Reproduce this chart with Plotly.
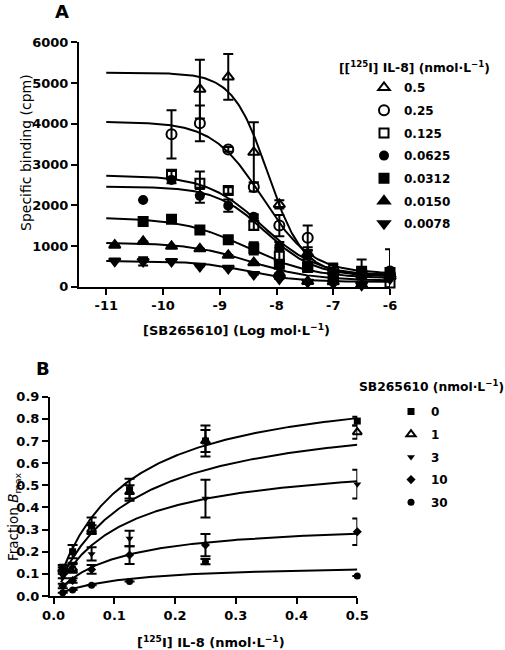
import numpy as np
import plotly.graph_objects as go

# ---------------- Panel A data ----------------
a_x = [-10.85, -10.35, -9.85, -9.35, -8.85, -8.4, -7.95, -7.45, -7.0, -6.5, -6.0]
a_labels = ["0.5", "0.25", "0.125", "0.0625", "0.0312", "0.0150", "0.0078"]
a_y_05 = [None, None, None, 4850, 5150, 3300, 2020, 820, 380, 300, 260]
a_e_05 = [None, None, None, 720, 560, 740, 100, 150, 150, 120, 100]
a_y_025 = [None, None, 3740, 4010, 3370, 2450, 1500, 1200, 420, 330, 300]
a_e_025 = [None, None, 590, 440, 60, 110, 260, 300, 150, 150, 100]
a_y_0125 = [None, None, 2760, 2540, 2360, 1500, 750, 480, 300, 300, 90]
a_e_0125 = [None, None, 80, 290, 80, 100, 200, 120, 100, 100, 100]
a_y_00625 = [None, 2130, 2620, 2230, 1990, 1720, 1000, 780, 350, 350, 400]
a_e_00625 = [None, None, 80, 170, 150, 50, 100, 100, 120, 320, 520]
a_y_00312 = [None, 1600, 1655, 1390, 1150, 940, 550, 490, 300, 380, 350]
a_e_00312 = [None, None, None, 40, 60, 150, 80, 80, 60, 80, 60]
a_y_00150 = [1020, 1110, 990, 930, 770, 590, 330, 130, 120, 50, 250]
a_e_00150 = [None, None, None, None, None, None, None, None, None, None, None]
a_y_00078 = [630, 620, 620, 500, 450, 300, 190, 110, 80, 40, 200]
a_e_00078 = [None, 100, None, None, None, None, None, None, None, None, None]

# one-site competition fit parameters
a_top = [5250, 4050, 2730, 2460, 1700, 1080, 630]
a_bottom = [300, 320, 260, 250, 200, 150, 120]
a_logic50 = [-8.15, -8.25, -8.25, -8.2, -8.5, -8.45, -8.5]
a_hill = [1.4, 1.0, 0.9, 1.0, 0.75, 0.8, 1.0]

a_ticks = [-11, -10, -9, -8, -7, -6]
a_tick_text = ["-11", "-10", "-9", "-8", "-7", "-6"]
a_yticks = [0, 1000, 2000, 3000, 4000, 5000, 6000]

# ---------------- Panel B data ----------------
b_x = [0.015, 0.0312, 0.0625, 0.125, 0.25, 0.5]
b_labels = ["0", "1", "3", "10", "30"]
b_y_0 = [0.13, 0.20, 0.32, 0.48, 0.70, 0.79]
b_e_0 = [0.01, 0.03, 0.035, 0.05, 0.07, 0.02]
b_y_1 = [0.12, 0.125, 0.30, 0.47, 0.70, 0.74]
b_e_1 = [0.01, 0.02, 0.02, 0.03, 0.05, 0.03]
b_y_3 = [0.09, 0.13, 0.19, 0.26, 0.44, 0.505]
b_e_3 = [0.01, 0.02, 0.03, 0.035, 0.085, 0.065]
b_y_10 = [0.045, 0.07, 0.12, 0.185, 0.23, 0.29]
b_e_10 = [0.01, 0.01, 0.02, 0.04, 0.05, 0.06]
b_y_30 = [0.015, 0.027, 0.048, 0.065, 0.155, 0.09]
b_e_30 = [None, None, None, None, 0.012, None]

# one-site saturation fit parameters
b_bmax = [0.98, 0.854, 0.632, 0.338, 0.146]
b_kd = [0.11, 0.125, 0.11, 0.10, 0.11]

b_ticks = [0.0, 0.1, 0.2, 0.3, 0.4, 0.5]
b_tick_text = ["0.0", "0.1", "0.2", "0.3", "0.4", "0.5"]
b_yticks = [0.0, 0.1, 0.2, 0.3, 0.4, 0.5, 0.6, 0.7, 0.8, 0.9]
b_ytick_text = ["0.0", "0.1", "0.2", "0.3", "0.4", "0.5", "0.6", "0.7", "0.8", "0.9"]

# ---------------- styles ----------------
FONT = "DejaVu Sans"
W, H = 505, 650
a_symbols = ["triangle-up-open", "circle-open", "square-open", "circle", "square",
             "triangle-up", "triangle-down"]
a_sizes = [10, 10, 9, 8, 9, 10, 10]
b_symbols = ["square", "triangle-up-open", "triangle-down", "diamond", "circle"]
b_sizes = [7, 8, 7, 7, 7]

fig = go.Figure()

# Panel A fit curves
xa_fit = np.linspace(-11, -6, 300)
for top, bot, c, h in zip(a_top, a_bottom, a_logic50, a_hill):
    yfit = bot + (top - bot) / (1 + 10 ** ((xa_fit - c) * h))
    fig.add_trace(go.Scatter(x=xa_fit, y=yfit, mode="lines", line=dict(color="black", width=2),
                             showlegend=False, hoverinfo="skip", xaxis="x", yaxis="y"))

a_series = [(a_y_05, a_e_05), (a_y_025, a_e_025), (a_y_0125, a_e_0125), (a_y_00625, a_e_00625),
            (a_y_00312, a_e_00312), (a_y_00150, a_e_00150), (a_y_00078, a_e_00078)]
for i, (ys, es) in enumerate(a_series):
    fig.add_trace(go.Scatter(
        x=a_x, y=ys, mode="markers", name=a_labels[i], legend="legend", legendgroup="a%d" % i,
        marker=dict(symbol=a_symbols[i], size=a_sizes[i], color="black",
                    line=dict(color="black", width=2)),
        error_y=dict(type="data", array=es, color="black", thickness=2, width=5),
        cliponaxis=False, xaxis="x", yaxis="y"))

# Panel B fit curves
xb_fit = np.linspace(0.012, 0.5, 300)
for bm, kd in zip(b_bmax, b_kd):
    yfit = bm * xb_fit / (kd + xb_fit)
    fig.add_trace(go.Scatter(x=xb_fit, y=yfit, mode="lines", line=dict(color="black", width=2),
                             showlegend=False, hoverinfo="skip", xaxis="x2", yaxis="y2"))

b_series = [(b_y_0, b_e_0), (b_y_1, b_e_1), (b_y_3, b_e_3), (b_y_10, b_e_10), (b_y_30, b_e_30)]
for i, (ys, es) in enumerate(b_series):
    fig.add_trace(go.Scatter(
        x=b_x, y=ys, mode="markers", name=b_labels[i], legend="legend2", legendgroup="b%d" % i,
        marker=dict(symbol=b_symbols[i], size=b_sizes[i], color="black",
                    line=dict(color="black", width=2 if "open" in b_symbols[i] else 0)),
        error_y=dict(type="data", array=es, color="black", thickness=2, width=5),
        cliponaxis=False, xaxis="x2", yaxis="y2"))

axis_common = dict(showgrid=False, zeroline=False, showline=True, linecolor="black", linewidth=2,
                   ticks="outside", ticklen=6, tickwidth=2, tickcolor="black", automargin=False,
                   tickfont=dict(family=FONT, size=13, color="black", weight="bold"))

def px_x(p):
    return p / W

def px_y(p):
    return 1 - p / H

ann_font = dict(family=FONT, color="black")
annotations = [
    dict(text="A", x=px_x(62), y=px_y(12), font=dict(size=18, weight="bold", **ann_font)),
    dict(text="B", x=px_x(43), y=px_y(368), font=dict(size=18, weight="bold", **ann_font)),
    dict(text="[SB265610] (Log mol·L<sup>−1</sup>)", x=px_x(236), y=px_y(330),
         font=dict(size=13, weight="bold", **ann_font)),
    dict(text="Specific binding (cpm)", x=px_x(26), y=px_y(153), textangle=-90,
         font=dict(size=14, **ann_font)),
    dict(text="[<sup>125</sup>I] IL-8 (nmol·L<sup>−1</sup>)", x=px_x(211), y=px_y(642),
         font=dict(size=13, weight="bold", **ann_font)),
    dict(text="Fraction <i>B</i><sub>max</sub>", x=px_x(14), y=px_y(517), textangle=-90,
         font=dict(size=13.5, **ann_font)),
    dict(text="[[<sup>125</sup>I] IL-8] (nmol·L<sup>−1</sup>)", x=px_x(337), y=px_y(67),
         xanchor="left", font=dict(size=12.3, weight="bold", **ann_font)),
    dict(text="SB265610 (nmol·L<sup>−1</sup>)", x=px_x(357), y=px_y(386),
         xanchor="left", font=dict(size=12.3, weight="bold", **ann_font)),
]
for a in annotations:
    a.setdefault("xanchor", "center")
    a.update(xref="paper", yref="paper", yanchor="middle", showarrow=False)

legend_common = dict(xanchor="left", yanchor="top", bgcolor="rgba(0,0,0,0)", borderwidth=0,
                     traceorder="grouped", tracegroupgap=3.7,
                     font=dict(family=FONT, size=12, color="black", weight="bold"))

fig.update_layout(
    width=W, height=H, margin=dict(l=0, r=0, t=0, b=0, autoexpand=False),
    paper_bgcolor="white", plot_bgcolor="white", showlegend=True,
    xaxis=dict(domain=[px_x(79), px_x(390)], range=[-11.48, -6], anchor="y",
               tickvals=a_ticks, ticktext=a_tick_text, **axis_common),
    yaxis=dict(domain=[px_y(286.7), px_y(42.3)], range=[0, 6000], anchor="x",
               tickvals=a_yticks, **axis_common),
    xaxis2=dict(domain=[px_x(50), px_x(357.3)], range=[-0.006, 0.5], anchor="y2",
                tickvals=b_ticks, ticktext=b_tick_text, **axis_common),
    yaxis2=dict(domain=[px_y(596), px_y(396.7)], range=[0, 0.9], anchor="x2",
                tickvals=b_yticks, ticktext=b_ytick_text, **axis_common),
    legend=dict(x=px_x(364), y=px_y(73), **legend_common),
    legend2=dict(x=px_x(391), y=px_y(397), **legend_common),
    annotations=annotations,
)

fig.write_html("out.html", config={"displayModeBar": False},
               post_script="document.body.style.margin='0';document.body.style.overflow='hidden';")
